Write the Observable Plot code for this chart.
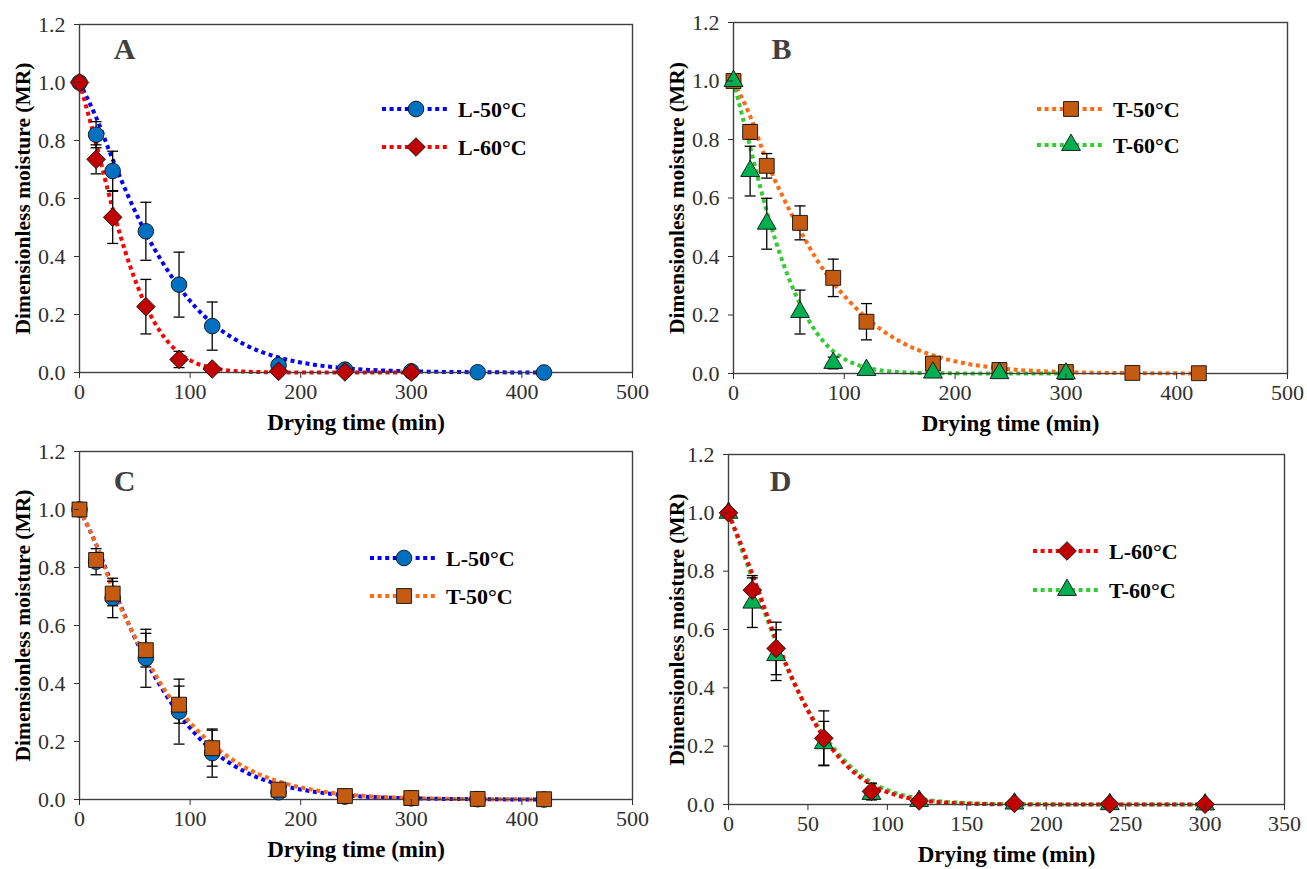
<!DOCTYPE html>
<html><head><meta charset="utf-8">
<script src="https://cdn.jsdelivr.net/npm/d3@7"></script>
<script src="https://cdn.jsdelivr.net/npm/@observablehq/plot@0.6"></script>
<style>
body{margin:0;background:#fff;}
#wrap{position:relative;width:1307px;height:869px;overflow:hidden;background:#fff;}
.panel{position:absolute;}
.legend{position:absolute;overflow:visible;}
</style></head><body><div id="wrap"></div>
<script>
// ---- measured data (drying time in min, dimensionless moisture MR) ----
const timesLong = [0, 15, 30, 60, 90, 120, 180, 240, 300, 360, 420];
const timesShort = [0, 15, 30, 60, 90, 120, 180, 240, 300];

const valL50 = [1.0, 0.82, 0.695, 0.487, 0.303, 0.16, 0.025, 0.01, 0.004, 0.001, 0.0];
const errL50 = [0, 0.045, 0.068, 0.1, 0.112, 0.083, 0.01, 0, 0, 0, 0];
const valL60 = [1.0, 0.735, 0.535, 0.227, 0.045, 0.012, 0.004, 0.002, 0.001];
const errL60 = [0, 0.05, 0.09, 0.094, 0.028, 0.005, 0, 0, 0];
const valT50 = [1.0, 0.826, 0.71, 0.515, 0.327, 0.177, 0.034, 0.012, 0.005, 0.002, 0.001];
const errT50 = [0, 0.025, 0.042, 0.058, 0.064, 0.062, 0.012, 0, 0, 0, 0];
const valT60 = [1.0, 0.692, 0.512, 0.21, 0.036, 0.012, 0.003, 0.001, 0.0];
const errT60 = [0, 0.085, 0.087, 0.075, 0.02, 0.004, 0, 0, 0];

// ---- fitted model curves ----
const fitTimesLong = [0, 15, 30, 45, 60, 75, 90, 105, 120, 150, 180, 210, 240, 300, 360, 420];
const fitL50 = [1, 0.88, 0.735, 0.60, 0.48, 0.38, 0.295, 0.225, 0.17, 0.095, 0.052, 0.028, 0.015, 0.004, 0.001, 0];
const fitT50 = [1, 0.88, 0.725, 0.60, 0.49, 0.39, 0.31, 0.245, 0.19, 0.11, 0.062, 0.034, 0.018, 0.005, 0.0013, 0.0003];
const fitTimesShort = [0, 15, 30, 45, 60, 75, 90, 105, 120, 150, 180, 240, 300];
const fitL60 = [1, 0.79, 0.565, 0.375, 0.23, 0.13, 0.068, 0.033, 0.016, 0.003, 0.0005, 0, 0];
const fitT60 = [1, 0.775, 0.555, 0.375, 0.238, 0.14, 0.076, 0.04, 0.02, 0.005, 0.001, 0, 0];

const seriesNames = ["L-50°C", "L-60°C", "T-50°C", "T-60°C"];
const yTicks = [0, 0.2, 0.4, 0.6, 0.8, 1.0, 1.2];
const xTicksWide = [0, 100, 200, 300, 400, 500];
const xTicksNarrow = [0, 50, 100, 150, 200, 250, 300, 350];
const panelLetters = ["A", "B", "C", "D"];
const xTitle = "Drying time (min)";
const yTitle = "Dimensionless moisture (MR)";

// ---- build tables ----
function obs(times, vals, errs) { return times.map((t, i) => ({t, v: vals[i], e: errs[i]})); }
function fit(times, vals) { return times.map((t, i) => ({t, v: vals[i]})); }

const S = {
  "L-50°C": {obs: obs(timesLong, valL50, errL50), fit: fit(fitTimesLong, fitL50), line: "#0000FF", fill: "#0070C0", symbol: "circle", r: 7.8},
  "L-60°C": {obs: obs(timesShort, valL60, errL60), fit: fit(fitTimesShort, fitL60), line: "#FF0000", fill: "#C00000", symbol: "diamond2", r: 8.4},
  "T-50°C": {obs: obs(timesLong, valT50, errT50), fit: fit(fitTimesLong, fitT50), line: "#FF6A13", fill: "#C55A11", symbol: "square", r: 8.4},
  "T-60°C": {obs: obs(timesShort, valT60, errT60), fit: fit(fitTimesShort, fitT60), line: "#33CC33", fill: "#00B050", symbol: "triangle", r: 7}
};
const d3Sym = {circle: d3.symbolCircle, diamond2: d3.symbolDiamond2, square: d3.symbolSquare, triangle: d3.symbolTriangle};

const capSymbol = {draw(ctx) { ctx.moveTo(-5.5, 0); ctx.lineTo(5.5, 0); }};
const DASH = "4,3.6";
const FONT = "'Liberation Serif','Times New Roman',Times,serif";

const panels = [
  {left: 0, top: 0, width: 650, height: 440, mL: 79, mR: 18, mT: 24, mB: 68, xTicks: xTicksWide, letter: panelLetters[0], ld: [45, 25], ytdx: -56,
   draw: ["L-50°C", "L-60°C"], leg: ["L-50°C", "L-60°C"], legPos: [382, 109, 38]},
  {left: 654, top: 0, width: 653, height: 440, mL: 79, mR: 20, mT: 22, mB: 67, xTicks: xTicksWide, letter: panelLetters[1], ld: [48, 27], ytdx: -56,
   draw: ["T-50°C", "T-60°C"], leg: ["T-50°C", "T-60°C"], legPos: [1037, 109, 36]},
  {left: 0, top: 430, width: 650, height: 439, mL: 79, mR: 18, mT: 21, mB: 70, xTicks: xTicksWide, letter: panelLetters[2], ld: [45, 30], ytdx: -56,
   draw: ["L-50°C", "T-50°C"], leg: ["L-50°C", "T-50°C"], legPos: [370, 558, 38]},
  {left: 654, top: 430, width: 653, height: 439, mL: 74, mR: 23, mT: 24, mB: 65, xTicks: xTicksNarrow, letter: panelLetters[3], ld: [52, 27], ytdx: -51,
   draw: ["T-60°C", "L-60°C"], leg: ["L-60°C", "T-60°C"], legPos: [1033, 551, 39]}
];

const wrap = document.getElementById("wrap");

for (const p of panels) {
  const marks = [];
  for (const n of p.draw) {
    marks.push(Plot.line(S[n].fit, {x: "t", y: "v", stroke: S[n].line, strokeWidth: 4, strokeDasharray: DASH, strokeLinecap: "butt", strokeLinejoin: "miter", curve: "monotone-x"}));
  }
  marks.push(Plot.frame({stroke: "#404040", strokeWidth: 1.4}));
  for (const n of p.draw) {
    const eb = S[n].obs.filter(d => d.e > 0);
    marks.push(Plot.ruleX(eb, {x: "t", y1: d => d.v - d.e, y2: d => d.v + d.e, stroke: "#000", strokeWidth: 1.3}));
    marks.push(Plot.dot(eb, {x: "t", y: d => d.v + d.e, symbol: capSymbol, stroke: "#000", strokeWidth: 1.3, fill: "none", r: 5}));
    marks.push(Plot.dot(eb, {x: "t", y: d => d.v - d.e, symbol: capSymbol, stroke: "#000", strokeWidth: 1.3, fill: "none", r: 5}));
  }
  for (const n of p.draw) {
    marks.push(Plot.dot(S[n].obs, {x: "t", y: "v", symbol: S[n].symbol, r: S[n].r, fill: S[n].fill, stroke: "#111", strokeWidth: 0.9}));
  }
  marks.push(Plot.axisY({ticks: yTicks, tickFormat: d3.format(".1f"), tickSize: 5, tickPadding: 9, fontSize: 22, label: null}));
  marks.push(Plot.axisX({ticks: p.xTicks, tickFormat: d => String(d), tickSize: 6, tickPadding: 5, fontSize: 22, label: null}));
  marks.push(Plot.text([p.letter], {frameAnchor: "top-left", dx: p.ld[0], dy: p.ld[1], text: d => d, fontSize: 30, fontWeight: "bold", fill: "#404040", textAnchor: "middle", lineAnchor: "middle"}));
  marks.push(Plot.text([xTitle], {frameAnchor: "bottom", dy: 50, text: d => d, fontSize: 23, fontWeight: "bold", fill: "#000", textAnchor: "middle", lineAnchor: "middle"}));
  marks.push(Plot.text([yTitle], {frameAnchor: "left", dx: p.ytdx, rotate: -90, text: d => d, fontSize: 21.5, fontWeight: "bold", fill: "#000", textAnchor: "middle", lineAnchor: "middle"}));

  const chart = Plot.plot({
    width: p.width, height: p.height,
    marginLeft: p.mL, marginRight: p.mR, marginTop: p.mT, marginBottom: p.mB,
    x: {domain: [0, p.xTicks[p.xTicks.length - 1]], label: null},
    y: {domain: [0, 1.2], label: null},
    style: {fontFamily: FONT, fontSize: "22px", color: "#303030", background: "transparent", overflow: "visible"},
    marks
  });
  const div = document.createElement("div");
  div.className = "panel";
  div.style.left = p.left + "px";
  div.style.top = p.top + "px";
  div.appendChild(chart);
  wrap.appendChild(div);

  // legend inside the plot area
  const [lx, ly, gap] = p.legPos;
  const svg = d3.create("svg").attr("class", "legend").attr("width", 170).attr("height", gap + 30)
    .style("left", lx + "px").style("top", (ly - 15) + "px");
  p.leg.forEach((n, i) => {
    const g = svg.append("g").attr("transform", `translate(0,${15 + i * gap})`);
    g.append("line").attr("x1", 0).attr("x2", 66).attr("y1", 0).attr("y2", 0)
      .attr("stroke", S[n].line).attr("stroke-width", 4).attr("stroke-dasharray", DASH);
    g.append("path").attr("d", d3.symbol(d3Sym[S[n].symbol], Math.PI * S[n].r * S[n].r)())
      .attr("transform", "translate(34,0)").attr("fill", S[n].fill).attr("stroke", "#111").attr("stroke-width", 0.9);
    g.append("text").attr("x", 76).attr("y", 0).attr("dy", "0.35em").text(n)
      .attr("font-family", FONT).attr("font-size", 22).attr("font-weight", "bold").attr("fill", "#000");
  });
  wrap.appendChild(svg.node());
}
</script></body></html>
